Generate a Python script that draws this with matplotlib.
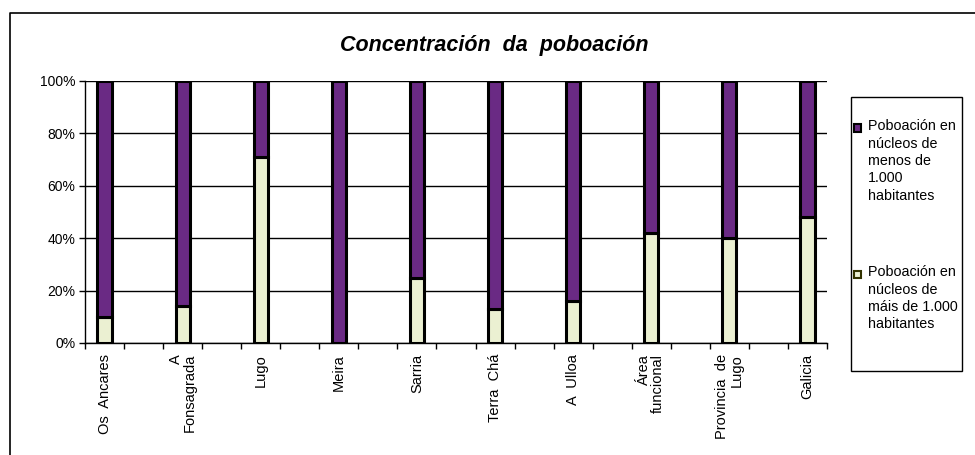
import numpy as np
import matplotlib.pyplot as plt
from matplotlib.patches import Rectangle
from matplotlib.lines import Line2D

plt.rcParams['font.family'] = ['Liberation Sans', 'DejaVu Sans']

# Datos (porcentaxe de poboación en núcleos de máis de 1.000 habitantes)
categories = ['Os  Ancares', 'A\nFonsagrada', 'Lugo', 'Meira', 'Sarria',
              'Terra  Chá', 'A  Ulloa', 'Área\nfuncional', 'Provincia  de\nLugo', 'Galicia']
mais_1000 = [10, 14, 71, 0, 25, 13, 16, 42, 40, 48]
menos_1000 = [100 - v for v in mais_1000]

label_menos = 'Poboación en\nnúcleos de\nmenos de\n1.000\nhabitantes'
label_mais = 'Poboación en\nnúcleos de\nmáis de 1.000\nhabitantes'

PURPLE = '#6a2a84'
LIGHT = '#ebf0d2'
W, H = 975, 455

fig = plt.figure(figsize=(9.75, 4.55), dpi=100)
ax = fig.add_axes([85 / W, 1 - 343 / H, (827 - 85) / W, (343 - 81) / H])

x = np.arange(len(categories)) * 2
ax.bar(x, mais_1000, width=0.36, color=LIGHT, edgecolor='black', linewidth=2.2, zorder=3)
ax.bar(x, menos_1000, bottom=mais_1000, width=0.36, color=PURPLE,
       edgecolor='black', linewidth=2.2, zorder=3)

ax.set_xlim(-0.5, x[-1] + 0.5)
ax.set_ylim(0, 100)
ax.set_yticks(np.arange(0, 101, 20))
ax.set_yticklabels([f'{v}%' for v in range(0, 101, 20)], fontsize=10)
ax.yaxis.grid(True, color='black', linewidth=1.0)
ax.set_axisbelow(True)

ax.set_xticks(np.arange(-0.5, x[-1] + 1, 1.0))
ax.set_xticklabels([])
ax.set_xticks(x, minor=True)
ax.set_xticklabels(categories, minor=True, rotation=90, fontsize=10.5,
                   va='top', ha='center', linespacing=1.0)
for lbl in ax.get_xticklabels(minor=True):
    lbl.set_multialignment('right')
ax.tick_params(axis='x', which='major', length=4, width=1, direction='out')
ax.tick_params(axis='x', which='minor', length=0, pad=8)
ax.tick_params(axis='y', length=4, width=1, pad=3)

for s in ['top', 'right']:
    ax.spines[s].set_visible(False)
for s in ['left', 'bottom']:
    ax.spines[s].set_linewidth(1.0)
    ax.spines[s].set_zorder(4)

fig.text(494 / W, 1 - 45 / H, 'Concentración  da  poboación', ha='center', va='center',
         fontsize=15.5, fontweight='bold', fontstyle='italic')

# marco exterior do gráfico
fig.add_artist(Line2D([9.5 / W, 9.5 / W, 1], [0, 1 - 13 / H, 1 - 13 / H],
                      transform=fig.transFigure, color='black', linewidth=1.2))

# lenda
fig.add_artist(Rectangle((851 / W, 1 - 371 / H), 111 / W, 274 / H, transform=fig.transFigure,
                         facecolor='white', edgecolor='black', linewidth=1.0))
for yc, col, edge, lab in [(128, PURPLE, 'black', label_menos), (274, LIGHT, '#333300', label_mais)]:
    fig.add_artist(Rectangle((854 / W, 1 - (yc + 3.5) / H), 7 / W, 7 / H, transform=fig.transFigure,
                             facecolor=col, edgecolor=edge, linewidth=1.5))
    fig.text(868 / W, 1 - (yc - 8.5) / H, lab, ha='left', va='top', fontsize=10.3, linespacing=1.3)

fig.savefig('out.png', dpi=100)
